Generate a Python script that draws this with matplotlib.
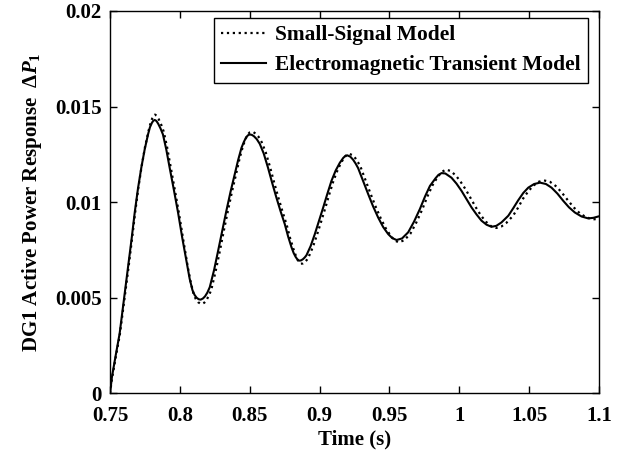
import matplotlib
matplotlib.use('Agg')
import matplotlib.pyplot as plt

# Values
# Small-signal model (dotted)
t_ss = [0.7500, 0.7515, 0.7541, 0.7570, 0.7595, 0.7632, 0.7658, 0.7680, 0.7703, 0.7727,
        0.7751, 0.7775, 0.7789, 0.7802, 0.7812, 0.7822, 0.7834, 0.7848, 0.7865, 0.7884,
        0.7908, 0.7933, 0.7963, 0.7994, 0.8025, 0.8057, 0.8078, 0.8098, 0.8114, 0.8130,
        0.8145, 0.8160, 0.8175, 0.8190, 0.8207, 0.8225, 0.8255, 0.8285, 0.8314, 0.8344,
        0.8374, 0.8404, 0.8428, 0.8452, 0.8470, 0.8487, 0.8500, 0.8512, 0.8527, 0.8543,
        0.8563, 0.8585, 0.8614, 0.8645, 0.8675, 0.8705, 0.8735, 0.8765, 0.8789, 0.8813,
        0.8829, 0.8843, 0.8855, 0.8865, 0.8880, 0.8895, 0.8908, 0.8921, 0.8952, 0.8982,
        0.9012, 0.9042, 0.9071, 0.9101, 0.9131, 0.9161, 0.9186, 0.9200, 0.9212, 0.9235,
        0.9256, 0.9275, 0.9293, 0.9330, 0.9366, 0.9402, 0.9438, 0.9474, 0.9510, 0.9537,
        0.9565, 0.9605, 0.9650, 0.9692, 0.9735, 0.9772, 0.9808, 0.9845, 0.9875, 0.9903,
        0.9935, 0.9975, 1.0011, 1.0047, 1.0083, 1.0119, 1.0155, 1.0190, 1.0228, 1.0265,
        1.0300, 1.0335, 1.0385, 1.0420, 1.0456, 1.0492, 1.0528, 1.0566, 1.0605, 1.0650,
        1.0695, 1.0737, 1.0779, 1.0820, 1.0862, 1.0910, 1.0960, 1.1000]
p_ss = [0.00000, 0.00080, 0.00188, 0.00305, 0.00445, 0.00655, 0.00810, 0.00946, 0.01075, 0.01190,
        0.01290, 0.01370, 0.01410, 0.01438, 0.01452, 0.01458, 0.01452, 0.01435, 0.01408, 0.01370,
        0.01290, 0.01190, 0.01068, 0.00940, 0.00800, 0.00660, 0.00580, 0.00520, 0.00493, 0.00477,
        0.00470, 0.00468, 0.00474, 0.00487, 0.00510, 0.00542, 0.00635, 0.00740, 0.00848, 0.00955,
        0.01058, 0.01152, 0.01230, 0.01294, 0.01330, 0.01355, 0.01365, 0.01368, 0.01366, 0.01358,
        0.01342, 0.01315, 0.01262, 0.01185, 0.01102, 0.01024, 0.00950, 0.00880, 0.00812, 0.00755,
        0.00722, 0.00698, 0.00684, 0.00678, 0.00679, 0.00687, 0.00697, 0.00712, 0.00765, 0.00830,
        0.00900, 0.00972, 0.01045, 0.01115, 0.01172, 0.01215, 0.01241, 0.01250, 0.01253, 0.01246,
        0.01230, 0.01209, 0.01185, 0.01112, 0.01042, 0.00975, 0.00915, 0.00863, 0.00823, 0.00800,
        0.00790, 0.00800, 0.00835, 0.00893, 0.00962, 0.01030, 0.01088, 0.01132, 0.01158, 0.01170,
        0.01164, 0.01140, 0.01105, 0.01065, 0.01018, 0.00972, 0.00930, 0.00898, 0.00874, 0.00865,
        0.00872, 0.00890, 0.00929, 0.00970, 0.01018, 0.01055, 0.01085, 0.01106, 0.01114, 0.01106,
        0.01082, 0.01047, 0.01008, 0.00972, 0.00942, 0.00920, 0.00910, 0.00913]

# Electromagnetic transient model (solid)
t_emt = [0.7500, 0.7514, 0.7540, 0.7569, 0.7593, 0.7629, 0.7655, 0.7677, 0.7700, 0.7724,
         0.7748, 0.7772, 0.7786, 0.7800, 0.7810, 0.7820, 0.7832, 0.7845, 0.7862, 0.7879,
         0.7903, 0.7927, 0.7957, 0.7987, 0.8018, 0.8050, 0.8070, 0.8090, 0.8105, 0.8120,
         0.8135, 0.8149, 0.8165, 0.8180, 0.8197, 0.8214, 0.8245, 0.8274, 0.8303, 0.8333,
         0.8363, 0.8393, 0.8417, 0.8441, 0.8458, 0.8475, 0.8488, 0.8500, 0.8515, 0.8530,
         0.8550, 0.8572, 0.8600, 0.8631, 0.8661, 0.8691, 0.8721, 0.8751, 0.8775, 0.8799,
         0.8815, 0.8830, 0.8842, 0.8852, 0.8866, 0.8880, 0.8893, 0.8906, 0.8936, 0.8966,
         0.8996, 0.9026, 0.9055, 0.9085, 0.9115, 0.9145, 0.9170, 0.9185, 0.9198, 0.9220,
         0.9240, 0.9258, 0.9276, 0.9312, 0.9348, 0.9383, 0.9419, 0.9455, 0.9491, 0.9520,
         0.9551, 0.9590, 0.9634, 0.9676, 0.9718, 0.9755, 0.9790, 0.9830, 0.9850, 0.9873,
         0.9900, 0.9944, 0.9980, 1.0016, 1.0052, 1.0088, 1.0124, 1.0159, 1.0195, 1.0231,
         1.0265, 1.0302, 1.0351, 1.0386, 1.0422, 1.0458, 1.0494, 1.0536, 1.0578, 1.0620,
         1.0660, 1.0702, 1.0744, 1.0785, 1.0827, 1.0875, 1.0923, 1.0960, 1.1000]
p_emt = [0.00000, 0.00086, 0.00195, 0.00313, 0.00451, 0.00659, 0.00810, 0.00946, 0.01070, 0.01180,
         0.01275, 0.01354, 0.01392, 0.01415, 0.01426, 0.01430, 0.01425, 0.01410, 0.01385, 0.01354,
         0.01275, 0.01180, 0.01065, 0.00946, 0.00810, 0.00680, 0.00600, 0.00540, 0.00515, 0.00500,
         0.00492, 0.00490, 0.00496, 0.00507, 0.00527, 0.00555, 0.00645, 0.00746, 0.00850, 0.00955,
         0.01055, 0.01146, 0.01220, 0.01284, 0.01315, 0.01340, 0.01350, 0.01354, 0.01352, 0.01345,
         0.01330, 0.01305, 0.01255, 0.01180, 0.01100, 0.01024, 0.00952, 0.00885, 0.00820, 0.00764,
         0.00733, 0.00712, 0.00700, 0.00694, 0.00695, 0.00701, 0.00710, 0.00722, 0.00770, 0.00833,
         0.00902, 0.00972, 0.01042, 0.01111, 0.01165, 0.01206, 0.01232, 0.01242, 0.01245, 0.01238,
         0.01222, 0.01202, 0.01178, 0.01110, 0.01042, 0.00978, 0.00920, 0.00870, 0.00833, 0.00812,
         0.00802, 0.00810, 0.00842, 0.00898, 0.00964, 0.01030, 0.01085, 0.01125, 0.01142, 0.01152,
         0.01150, 0.01128, 0.01097, 0.01059, 0.01015, 0.00972, 0.00935, 0.00903, 0.00882, 0.00871,
         0.00876, 0.00894, 0.00929, 0.00968, 0.01010, 0.01048, 0.01076, 0.01095, 0.01102, 0.01095,
         0.01076, 0.01045, 0.01007, 0.00973, 0.00946, 0.00925, 0.00915, 0.00918, 0.00926]

x_ticks = [0.75, 0.8, 0.85, 0.9, 0.95, 1, 1.05, 1.1]
x_tick_labels = ['0.75', '0.8', '0.85', '0.9', '0.95', '1', '1.05', '1.1']
y_ticks = [0, 0.005, 0.01, 0.015, 0.02]
y_tick_labels = ['0', '0.005', '0.01', '0.015', '0.02']

plt.rcParams['font.family'] = ['Liberation Serif', 'DejaVu Serif']
plt.rcParams['font.weight'] = 'bold'
plt.rcParams['mathtext.fontset'] = 'custom'
plt.rcParams['mathtext.rm'] = 'Liberation Serif:bold'
plt.rcParams['mathtext.it'] = 'Liberation Serif:italic:bold'
plt.rcParams['mathtext.bf'] = 'Liberation Serif:bold'

fig = plt.figure(figsize=(6.33, 4.55), dpi=100)
ax = fig.add_axes([110 / 633, 1 - 393.3 / 455, 489 / 633, 382.3 / 455])

ax.plot(t_ss, p_ss, color='black', linestyle=':', linewidth=1.6, label='Small-Signal Model')
ax.plot(t_emt, p_emt, color='black', linestyle='-', linewidth=1.5,
        label='Electromagnetic Transient Model')

ax.set_xlim(0.75, 1.1)
ax.set_ylim(0, 0.02)
ax.set_xticks(x_ticks)
ax.set_xticklabels(x_tick_labels)
ax.set_yticks(y_ticks)
ax.set_yticklabels(y_tick_labels)
ax.tick_params(direction='in', length=5, width=1, top=True, right=True, labelsize=15)
ax.tick_params(axis='x', pad=9)
ax.tick_params(axis='y', pad=6)
for s in ax.spines.values():
    s.set_linewidth(1.0)

ax.set_xlabel('Time (s)', fontsize=15, fontweight='bold', labelpad=3)
ax.set_ylabel(r'DG1 Active Power Response  $\Delta\mathit{P}_1$', fontsize=15,
              fontweight='bold', labelpad=8)

leg = ax.legend(loc='upper right', bbox_to_anchor=(588 / 633, 1 - 18 / 455),
                bbox_transform=fig.transFigure, borderaxespad=0, fontsize=15.4,
                fancybox=False, framealpha=1, edgecolor='black', handlelength=2.1,
                handletextpad=0.4, borderpad=0.35, labelspacing=0.45)
leg.get_frame().set_linewidth(1.0)

fig.savefig('out.png', dpi=100)
